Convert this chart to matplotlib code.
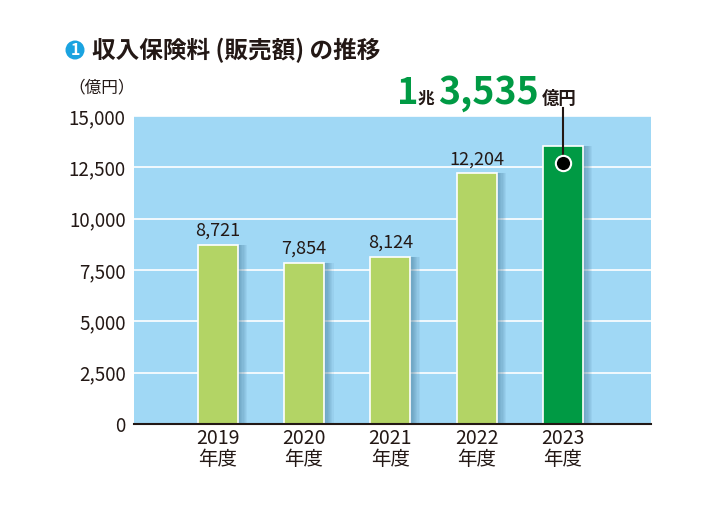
import numpy as np
import matplotlib.pyplot as plt
from matplotlib.patches import Rectangle, Ellipse

plt.rcParams['font.family'] = ['Noto Sans CJK JP', 'DejaVu Sans']

years = ['2019\n年度', '2020\n年度', '2021\n年度', '2022\n年度', '2023\n年度']
values = [8721, 7854, 8124, 12204, 13535]
colors = ['#b3d465', '#b3d465', '#b3d465', '#b3d465', '#009a44']
yticks = [0, 2500, 5000, 7500, 10000, 12500, 15000]

fig = plt.figure(figsize=(7.09, 5.11), dpi=100)
ax = fig.add_axes([134 / 709, 1 - 424 / 511, 517 / 709, 308 / 511])
ax.set_facecolor('#a0d8f5')

x = np.arange(len(values))
w = 0.46

# 影 (バーの右側)
for i, v in enumerate(values):
    for k in range(8):
        ax.add_patch(Rectangle((x[i] + w / 2, 0), 0.014 * (8 - k), v,
                               facecolor='#3a6f8f', alpha=0.08, lw=0, zorder=2))

ax.bar(x, values, width=w, color=colors, edgecolor='white', linewidth=1.2, zorder=3)

for i, v in enumerate(values[:-1]):
    ax.text(x[i], v + 250, '{:,}'.format(v), ha='center', va='bottom', fontsize=13, color='#231815')

ax.set_xlim(-0.97, 5.02)
ax.set_ylim(0, 15000)
ax.set_yticks(yticks)
ax.set_yticklabels(['{:,}'.format(t) for t in yticks], fontsize=13.5, color='#231815')
ax.set_xticks(x)
ax.set_xticklabels(years, fontsize=14, color='#231815', linespacing=1.0)
ax.tick_params(length=0, pad=6)
ax.tick_params(axis='x', pad=3)
ax.yaxis.grid(True, color='white', lw=1.2, zorder=1)
ax.set_axisbelow(True)
for s in ['top', 'right', 'left']:
    ax.spines[s].set_visible(False)
ax.spines['bottom'].set_color('#231815')
ax.spines['bottom'].set_linewidth(1.5)
ax.spines['bottom'].set_zorder(5)

# 2023年度の注記
ax.plot([x[4], x[4]], [12700, 15390], color='#231815', lw=1.5, clip_on=False, zorder=6)
ax.plot(x[4], 12700, 'o', ms=11, mfc='black', mec='white', mew=1.5, zorder=7)

yb = 1 - 104 / 511
fig.text(397 / 709, yb, '1', fontsize=26, color='#009a44', fontweight='bold', va='baseline')
fig.text(418 / 709, yb, '兆', fontsize=12, color='#231815', fontweight='bold', va='baseline')
fig.text(438 / 709, yb, '3,535', fontsize=27, color='#009a44', fontweight='bold', va='baseline')
fig.text(542 / 709, yb, '億円', fontsize=12.5, color='#231815', fontweight='bold', va='baseline')

# タイトル
fig.add_artist(Ellipse((75 / 709, 1 - 50 / 511), 19 / 709, 19 / 511, transform=fig.transFigure,
                       facecolor='#1aa3e0', edgecolor='none'))
fig.text(75 / 709, 1 - 50 / 511, '1', fontsize=11.5, color='white', fontweight='bold', ha='center', va='center')
fig.text(92 / 709, 1 - 50 / 511, '収入保険料 (販売額) の推移', fontsize=17, color='#231815',
         fontweight='bold', va='center')
fig.text(68 / 709, 1 - 88 / 511, '（億円）', fontsize=12, color='#231815', va='center')

plt.savefig('out.png', dpi=100)
